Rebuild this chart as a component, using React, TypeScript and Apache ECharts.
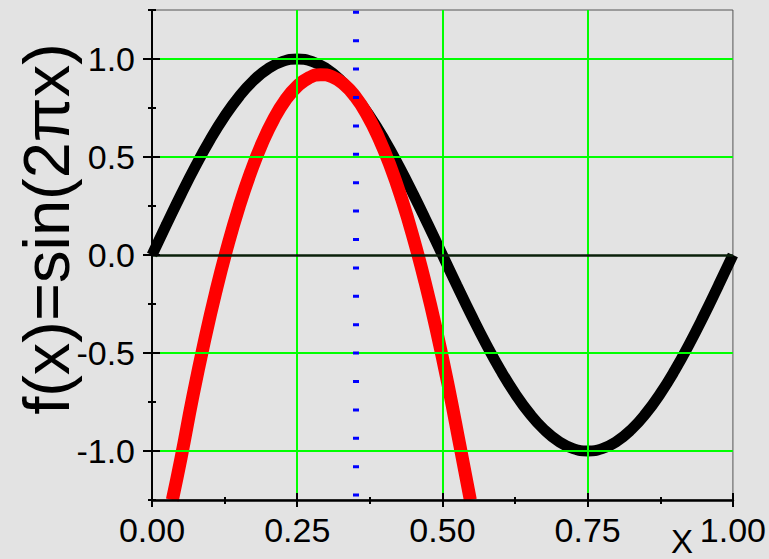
import React, { useEffect, useRef } from 'react';
import * as echarts from 'echarts';

const FONT = '"Liberation Sans", Arial, sans-serif';

// Tick positions and labels
const xMajor = [0, 0.25, 0.5, 0.75, 1];
const xMinor = [0.125, 0.375, 0.625, 0.875];
const yMajor = [-1, -0.5, 0, 0.5, 1];
const yMinor = [-1.25, -0.75, -0.25, 0.25, 0.75, 1.25];

// Reference lines
const greenX = [0.25, 0.5, 0.75];
const greenY = [-1, -0.5, 0.5, 1];
const zeroY = 0;
const dottedX = 0.35;

// Black curve: f(x) = sin(2πx)
const sinX = [0, 0.025, 0.05, 0.075, 0.1, 0.125, 0.15, 0.175, 0.2, 0.225, 0.25, 0.275, 0.3, 0.325, 0.35, 0.375, 0.4, 0.425, 0.45, 0.475, 0.5,
  0.525, 0.55, 0.575, 0.6, 0.625, 0.65, 0.675, 0.7, 0.725, 0.75, 0.775, 0.8, 0.825, 0.85, 0.875, 0.9, 0.925, 0.95, 0.975, 1];
const sinY = [0, 0.156, 0.309, 0.454, 0.588, 0.707, 0.809, 0.891, 0.951, 0.988, 1, 0.988, 0.951, 0.891, 0.809, 0.707, 0.588, 0.454, 0.309, 0.156, 0,
  -0.156, -0.309, -0.454, -0.588, -0.707, -0.809, -0.891, -0.951, -0.988, -1, -0.988, -0.951, -0.891, -0.809, -0.707, -0.588, -0.454, -0.309, -0.156, 0];

// Red curve, values
const redX = [0.035, 0.05, 0.07, 0.09, 0.11, 0.13, 0.15, 0.17, 0.19, 0.21, 0.23, 0.25, 0.27, 0.29, 0.31, 0.33, 0.35, 0.37, 0.39, 0.41, 0.43, 0.45, 0.47, 0.49, 0.51, 0.53, 0.548];
const redY = [-1.25, -1.036, -0.726, -0.443, -0.186, 0.044, 0.247, 0.423, 0.573, 0.696, 0.792, 0.861, 0.904, 0.92, 0.909, 0.872, 0.808, 0.717, 0.599, 0.455, 0.284, 0.086, -0.138, -0.389, -0.667, -0.972, -1.25];

const yTitle = 'f(x)=sin(2πx)';
const xTitle = 'X';

export default function App() {
  const ref = useRef<HTMLDivElement>(null);
  useEffect(() => {
    const chart = echarts.init(ref.current!, null, { renderer: 'svg' });
    const hidden = { show: false };
    const markData: any[] = [];
    greenY.forEach((v) => markData.push([{ coord: [0, v] }, { coord: [1, v], lineStyle: { color: '#00ff00', width: 2, type: 'solid' } }]));
    greenX.forEach((v) => markData.push([{ coord: [v, -1.25] }, { coord: [v, 1.25], lineStyle: { color: '#00ff00', width: 2, type: 'solid' } }]));
    markData.push([{ coord: [0, zeroY] }, { coord: [1, zeroY], lineStyle: { color: '#0a200a', width: 2.5, type: 'solid' } }]);
    markData.push([{ coord: [dottedX, -1.25] }, { coord: [dottedX, 1.25], lineStyle: { color: '#0000ff', width: 6, type: [3, 25.4], dashOffset: 25.4 } }]);

    const tickAxisX = (vals: number[], offset: number, len: number) => ({
      type: 'value', min: 0, max: 1, position: 'bottom', offset, z: 5,
      axisLine: { show: false, onZero: false }, axisLabel: hidden, splitLine: hidden,
      axisTick: { show: true, customValues: vals, length: len, inside: false, lineStyle: { color: '#000', width: 2 } },
    });
    const tickAxisY = (vals: number[], offset: number, len: number) => ({
      type: 'value', min: -1.25, max: 1.25, position: 'left', offset, z: 5,
      axisLine: { show: false, onZero: false }, axisLabel: hidden, splitLine: hidden,
      axisTick: { show: true, customValues: vals, length: len, inside: false, lineStyle: { color: '#000', width: 2 } },
    });

    chart.setOption({
      animation: false,
      backgroundColor: '#e3e3e3',
      grid: { left: 152, right: 36, top: 10, bottom: 59, show: true, borderColor: '#555', borderWidth: 1, backgroundColor: 'transparent' },
      xAxis: [
        {
          type: 'value', min: 0, max: 1, interval: 0.25, position: 'bottom', z: 5,
          axisLine: { show: true, onZero: false, lineStyle: { color: '#000', width: 2.5 } },
          axisTick: hidden, splitLine: hidden,
          axisLabel: { customValues: xMajor, fontSize: 34, fontFamily: FONT, color: '#000', margin: 13, formatter: (v: number) => v.toFixed(2) },
        },
        tickAxisX(xMajor, -7, 14),
        tickAxisX(xMinor, -3, 7),
      ],
      yAxis: [
        {
          type: 'value', min: -1.25, max: 1.25, interval: 0.25, position: 'left', z: 5,
          axisLine: { show: true, onZero: false, lineStyle: { color: '#000', width: 2 } },
          axisTick: hidden, splitLine: hidden,
          axisLabel: { customValues: yMajor, fontSize: 34, fontFamily: FONT, color: '#000', margin: 17, padding: [0, 0, 6, 0], formatter: (v: number) => v.toFixed(1) },
        },
        tickAxisY(yMajor, -8, 17),
        tickAxisY(yMinor, -4, 8),
      ],
      graphic: [
        { type: 'text', x: 46, y: 229, rotation: Math.PI / 2, style: { text: yTitle, font: `65px ${FONT}`, fill: '#000', align: 'center', verticalAlign: 'middle' } },
        { type: 'text', x: 682, y: 558, style: { text: xTitle, font: `33px ${FONT}`, fill: '#000', align: 'center', verticalAlign: 'bottom' } },
      ],
      series: [
        {
          type: 'line', data: [[0, 0]], showSymbol: false, lineStyle: { opacity: 0 }, z: 1, silent: true,
          markLine: { silent: true, symbol: ['none', 'none'], label: { show: false }, animation: false, data: markData },
        },
        {
          type: 'line', data: sinX.map((x, i) => [x, sinY[i]]), smooth: true, showSymbol: false, z: 3,
          lineStyle: { color: '#000', width: 11 },
        },
        {
          type: 'line', data: redX.map((x, i) => [x, redY[i]]), smooth: true, showSymbol: false, z: 4,
          lineStyle: { color: '#ff0000', width: 13 },
        },
      ],
    });
    return () => chart.dispose();
  }, []);
  return <div ref={ref} style={{ position: 'fixed', left: 0, top: 0, width: 769, height: 559 }} />;
}
